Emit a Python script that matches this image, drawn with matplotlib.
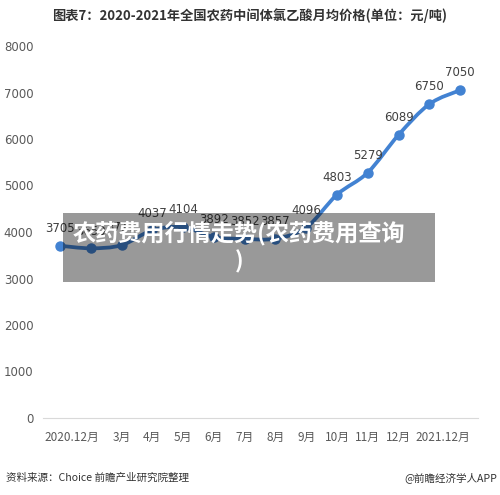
import matplotlib
matplotlib.use("Agg")
import matplotlib.pyplot as plt
from matplotlib.patches import Rectangle, PathPatch
from matplotlib.path import Path

plt.rcParams['font.family'] = ['Noto Sans CJK SC', 'DejaVu Sans']

values = [3705, 3650, 3717, 4037, 4104, 3892, 3852, 3857, 4096, 4803, 5279, 6089, 6750, 7050]
tick_pos = [0.39, 2, 3, 4, 5, 6, 7, 8, 9, 10, 11, 12.45]
tick_labels = ["2020.12月", "3月", "4月", "5月", "6月", "7月", "8月", "9月", "10月", "11月", "12月", "2021.12月"]
yticks = [0, 1000, 2000, 3000, 4000, 5000, 6000, 7000, 8000]
title = "图表7：2020-2021年全国农药中间体氯乙酸月均价格(单位：元/吨)"
source = "资料来源：Choice 前瞻产业研究院整理"
brand = "@前瞻经济学人APP"
overlay = "农药费用行情走势(农药费用查询\n)"

W, H = 500, 495
LINE = "#4282d2"
fig = plt.figure(figsize=(W/100, H/100), dpi=100)
ax = fig.add_axes([43/W, 1-418/H, 435/W, (418-46)/H])

x = list(range(len(values)))
# smooth line (Catmull-Rom as cubic Bezier, in data coordinates)
pts = list(zip(x, values))
verts = [pts[0]]
codes = [Path.MOVETO]
n = len(pts)
for i in range(n - 1):
    p0 = pts[i - 1] if i > 0 else pts[i]
    p1 = pts[i]
    p2 = pts[i + 1]
    p3 = pts[i + 2] if i + 2 < n else pts[i + 1]
    c1 = (p1[0] + (p2[0] - p0[0]) / 6, p1[1] + (p2[1] - p0[1]) / 6)
    c2 = (p2[0] - (p3[0] - p1[0]) / 6, p2[1] - (p3[1] - p1[1]) / 6)
    verts += [c1, c2, p2]
    codes += [Path.CURVE4] * 3
ax.add_patch(PathPatch(Path(verts, codes), facecolor='none', edgecolor=LINE, lw=2.7,
                       capstyle='round', joinstyle='round', zorder=3))
ax.plot(x, values, ls='none', marker='o', ms=6.5, mfc=LINE, mec=LINE, zorder=4)
for xi, v in zip(x, values):
    ax.text(xi, v + 230, str(v), ha='center', va='bottom', fontsize=8.5, color="#404040",
            family=['DejaVu Sans'])

ax.set_xlim(-0.55, 13.58)
ax.set_ylim(0, 8000)
ax.set_yticks(yticks)
ax.set_yticklabels([str(t) for t in yticks], fontsize=8.5, color="#595959", family=['DejaVu Sans'])
ax.set_xticks(tick_pos)
ax.set_xticklabels(tick_labels, fontsize=8.5, color="#595959")
ax.tick_params(axis='x', length=0, pad=9.5)
ax.tick_params(axis='y', length=0, pad=7)
for s in ['top', 'right', 'left']:
    ax.spines[s].set_visible(False)
ax.spines['bottom'].set_color("#d9d9d9")
ax.spines['bottom'].set_linewidth(0.8)

fig.text(0.5, 1-16/H, title, ha='center', va='center', fontsize=9.5, fontweight='bold', color="#333333")
fig.text(6/W, 1-478/H, source, ha='left', va='center', fontsize=7.6, color="#333333")
fig.text(497/W, 1-478/H, brand, ha='right', va='center', fontsize=7.6, color="#333333")

fig.add_artist(Rectangle((63/W, 1-282/H), (435-63)/W, (282-213)/H, transform=fig.transFigure,
                         facecolor='black', alpha=0.4, edgecolor='none', zorder=10))
fig.text(239/W, 1-247/H, overlay, ha='center', va='center', fontsize=16.7, fontweight='bold',
         color='white', zorder=11, linespacing=1.2)

fig.savefig("out.png", dpi=100)
